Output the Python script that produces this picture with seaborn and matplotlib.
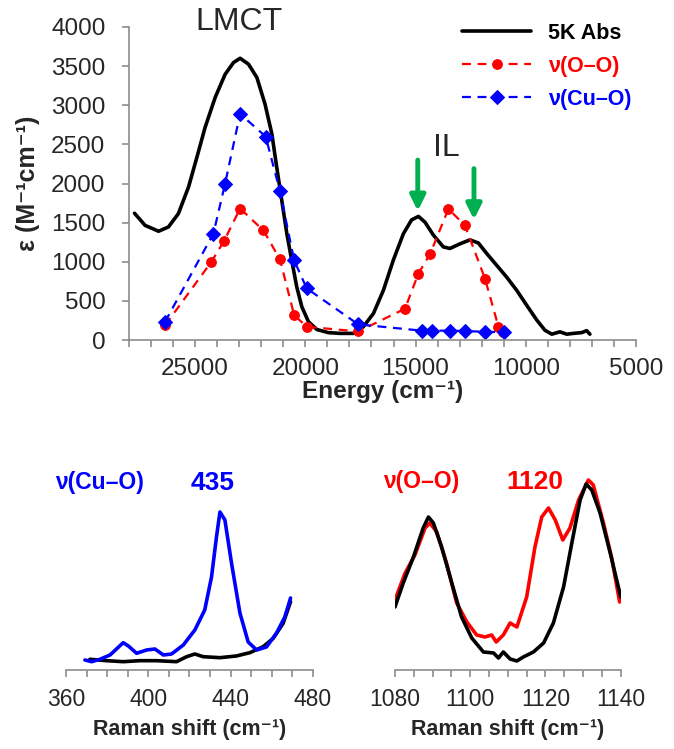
import numpy as np
import pandas as pd
import matplotlib
matplotlib.use("Agg")
import matplotlib.pyplot as plt
import seaborn as sns
from matplotlib.ticker import MultipleLocator, FixedLocator

sns.set_style("white")
plt.rcParams['font.family'] = ['Liberation Sans', 'DejaVu Sans']

# 吸收光谱 (5K Abs)
abs_x = [27750, 27270, 26660, 26210, 25760, 25300, 24920, 24550, 24090, 23640, 23260,
         22960, 22580, 22200, 21830, 21520, 21300, 21070, 20840, 20620, 20390, 20160,
         19860, 19480, 18960, 18420, 17820, 17370, 16910, 16460, 16010, 15550, 15180,
         14870, 14570, 14190, 13740, 13440, 12980, 12530, 12150, 11770, 11320, 10870,
         10410, 9960, 9500, 9130, 8820, 8450, 8140, 7840, 7460, 7240, 7090]
abs_y = [1620, 1465, 1390, 1445, 1615, 1955, 2335, 2715, 3100, 3395, 3545,
         3600, 3525, 3355, 3015, 2635, 2210, 1785, 1360, 1020, 680, 425,
         235, 135, 95, 85, 85, 170, 340, 635, 1020, 1360, 1535,
         1580, 1505, 1340, 1190, 1170, 1230, 1280, 1240, 1105, 955, 805,
         635, 445, 255, 125, 75, 105, 75, 85, 95, 120, 75]

# 共振拉曼激发谱 ν(O–O)
oo_x = [26360, 24260, 23690, 22960, 21900, 21150, 20510, 19940, 17600,
        15480, 14870, 14340, 13510, 12760, 11850, 11240, 11020]
oo_y = [190, 1000, 1265, 1680, 1400, 1030, 320, 170, 110,
        400, 850, 1100, 1675, 1465, 785, 170, 105]

# 共振拉曼激发谱 ν(Cu–O)
cuo_x = [26370, 24170, 23640, 22960, 21800, 21150, 20510, 19940, 17600,
         14720, 14270, 13440, 12760, 11850, 11000]
cuo_y = [230, 1360, 2000, 2890, 2600, 1900, 1020, 660, 200,
         120, 120, 120, 115, 105, 100]

# 拉曼谱 ν(Cu–O) 区域
cu_blue_x = [369.2, 372.5, 376.5, 381.4, 387.8, 390.3, 394.3, 399.2, 403.2, 407.3, 411.3,
             417.0, 422.6, 427.4, 430.7, 433.1, 434.8, 437.2, 440.4, 444.5, 448.5, 452.6,
             457.4, 462.3, 466.3, 469.1]
cu_blue_y = [10, 8.3, 10.7, 15, 27.3, 24, 16.7, 20, 21, 15, 16,
             25, 40, 60, 93, 133, 158, 150, 107, 57, 28, 20,
             23, 37, 53, 72]
cu_black_x = [371.6, 379.7, 387.8, 395.9, 404.0, 413.7, 418.6, 422.6, 426.6, 434.8, 442.8,
              449.3, 455.8, 460.7, 465.5, 469.1]
cu_black_y = [10.7, 9.3, 8.3, 9.3, 9.3, 8.3, 13.3, 16, 13.3, 12.3, 14,
              17.3, 23.3, 31.7, 46.7, 68.3]

# 拉曼谱 ν(O–O) 区域
oo_black_x = [1080.0, 1082.2, 1084.9, 1087.5, 1088.9, 1090.2, 1092.4, 1095.1, 1097.7, 1100.4,
              1103.5, 1106.2, 1107.5, 1108.8, 1110.6, 1112.4, 1114.1, 1116.8, 1119.5, 1122.1,
              1124.8, 1127.0, 1129.2, 1130.8, 1132.3, 1134.5, 1137.2, 1140.0]
oo_black_y = [63, 87, 113, 142, 153, 147, 123, 87, 53, 32,
              18, 17, 12, 18, 11, 9, 13, 18, 27, 47,
              83, 127, 170, 186, 180, 157, 117, 73]
oo_red_x = [1080.0, 1082.7, 1085.3, 1088.0, 1089.3, 1091.1, 1093.7, 1096.4, 1099.1, 1101.7,
            1103.9, 1105.7, 1106.9, 1108.8, 1110.6, 1112.4, 1115.0, 1117.2, 1119.0, 1120.8,
            1122.6, 1124.6, 1126.5, 1128.8, 1131.4, 1132.7, 1135.4, 1137.6, 1139.7]
oo_red_y = [70, 97, 115, 142, 147, 138, 107, 67, 48, 35,
            33, 35, 28, 35, 47, 43, 73, 123, 153, 162,
            150, 130, 142, 170, 190, 185, 147, 112, 68]

BLUE = '#0000FF'
RED = '#FF0000'
GREEN = '#00B050'
GREY = '#8C8C8C'

fig = plt.figure(figsize=(6.74, 7.49), dpi=100)

# ---------- 上图：吸收谱 + 激发谱 ----------
ax = fig.add_axes([0.1914, 0.546, 0.7522, 0.418])
sns.lineplot(x=abs_x, y=abs_y, ax=ax, color='black', lw=2.6, label='5K Abs')
sns.lineplot(x=oo_x, y=oo_y, ax=ax, color=RED, lw=1.6, linestyle=(0, (4, 3)),
             marker='o', markersize=7, markeredgecolor=RED, sort=False, label='ν(O–O)')
sns.lineplot(x=cuo_x, y=cuo_y, ax=ax, color=BLUE, lw=1.6, linestyle=(0, (4, 3)),
             marker='D', markersize=7.5, markeredgecolor=BLUE, sort=False, label='ν(Cu–O)')

ax.set_xlim(28000, 5000)
ax.set_ylim(0, 4000)
ax.xaxis.set_major_locator(FixedLocator([25000, 20000, 15000, 10000, 5000]))
ax.xaxis.set_minor_locator(MultipleLocator(1000))
ax.yaxis.set_major_locator(MultipleLocator(500))
ax.tick_params(axis='both', which='both', direction='out', color=GREY, length=5, width=1.2,
               labelsize=17.5, bottom=True, left=True)
ax.tick_params(axis='x', pad=8)
ax.tick_params(axis='y', pad=12)
for s in ['top', 'right']:
    ax.spines[s].set_visible(False)
for s in ['left', 'bottom']:
    ax.spines[s].set_color(GREY)
    ax.spines[s].set_linewidth(1.2)
ax.set_xlabel('Energy (cm⁻¹)', fontsize=17.5, fontweight='bold', labelpad=0)
ax.set_ylabel('ε (M⁻¹cm⁻¹)', fontsize=18, fontweight='bold', labelpad=8)

ax.text(23000, 4060, 'LMCT', fontsize=23, ha='center', va='center')
ax.text(13600, 2460, 'IL', fontsize=23, ha='center', va='center')
for xa, y0, y1 in [(14900, 2300, 1650), (12350, 2190, 1540)]:
    ax.annotate('', xy=(xa, y1), xytext=(xa, y0),
                arrowprops=dict(arrowstyle='-|>,head_width=0.45,head_length=0.9',
                                color=GREEN, lw=3.5, shrinkA=0, shrinkB=0))

leg = ax.legend(loc='upper right', bbox_to_anchor=(1.03, 1.075), frameon=False,
                handlelength=3.2, handletextpad=0.8, labelspacing=0.55,
                prop={'size': 15.5, 'weight': 'bold'})
for t, c in zip(leg.get_texts(), ['black', RED, BLUE]):
    t.set_color(c)

# ---------- 下左：ν(Cu–O) 拉曼 ----------
ax2 = fig.add_axes([0.0979, 0.1055, 0.3665, 0.267])
sns.lineplot(x=cu_black_x, y=cu_black_y, ax=ax2, color='black', lw=2.6)
sns.lineplot(x=cu_blue_x, y=cu_blue_y, ax=ax2, color=BLUE, lw=2.6)
ax2.set_xlim(360, 480)
ax2.set_ylim(0, 200)
ax2.xaxis.set_major_locator(MultipleLocator(40))
ax2.xaxis.set_minor_locator(MultipleLocator(10))
ax2.text(376.5, 187, 'ν(Cu–O)', fontsize=16.5, fontweight='bold', color=BLUE, ha='center', va='center')
ax2.text(431.4, 187, '435', fontsize=19, fontweight='bold', color=BLUE, ha='center', va='center')
ax2.set_xlabel('Raman shift (cm⁻¹)', fontsize=15.5, fontweight='bold', labelpad=6)

# ---------- 下右：ν(O–O) 拉曼 ----------
ax3 = fig.add_axes([0.586, 0.1055, 0.335, 0.267])
sns.lineplot(x=oo_red_x, y=oo_red_y, ax=ax3, color=RED, lw=2.6)
sns.lineplot(x=oo_black_x, y=oo_black_y, ax=ax3, color='black', lw=2.6)
ax3.set_xlim(1080, 1140)
ax3.set_ylim(0, 200)
ax3.xaxis.set_major_locator(MultipleLocator(20))
ax3.xaxis.set_minor_locator(MultipleLocator(5))
ax3.text(1087.1, 188, 'ν(O–O)', fontsize=16.5, fontweight='bold', color=RED, ha='center', va='center')
ax3.text(1117.2, 188, '1120', fontsize=19, fontweight='bold', color=RED, ha='center', va='center')
ax3.set_xlabel('Raman shift (cm⁻¹)', fontsize=15.5, fontweight='bold', labelpad=6)

for a in [ax2, ax3]:
    for s in ['top', 'right', 'left']:
        a.spines[s].set_visible(False)
    a.spines['bottom'].set_color(GREY)
    a.spines['bottom'].set_linewidth(1.2)
    a.set_yticks([])
    a.set_ylabel('')
    a.tick_params(axis='x', which='both', direction='out', color=GREY, length=5, width=1.2,
                  labelsize=16.5, bottom=True, pad=8)

fig.savefig('out.png', dpi=100)
